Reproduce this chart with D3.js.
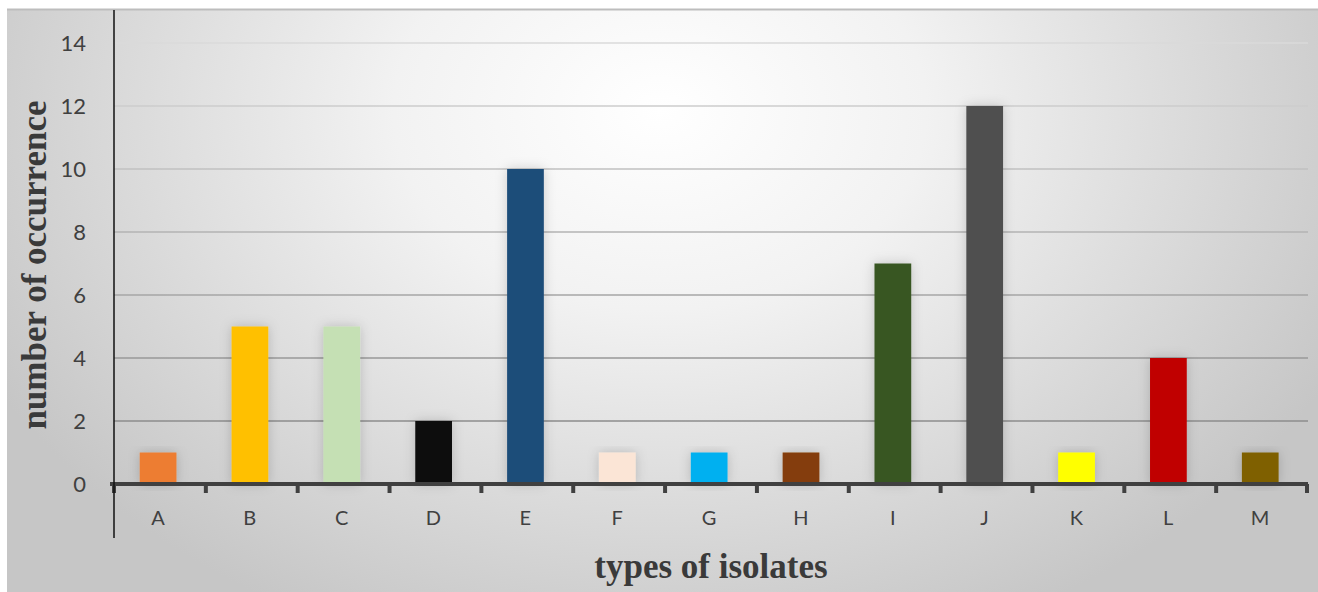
<!DOCTYPE html>
<html>
<head>
<meta charset="utf-8">
<script src="https://cdn.jsdelivr.net/npm/d3@7"></script>
<style>
  body { margin: 0; background: #fff; }
</style>
</head>
<body>
<div id="chart"></div>
<script>
const categories = ['A', 'B', 'C', 'D', 'E', 'F', 'G', 'H', 'I', 'J', 'K', 'L', 'M'];
const values = [1, 5, 5, 2, 10, 1, 1, 1, 7, 12, 1, 4, 1];
const barColors = ['#ED7D31', '#FFC000', '#C5E0B4', '#0D0D0D', '#1F4E79', '#FBE5D6', '#00B0F0',
  '#843C0C', '#375623', '#505050', '#FFFF00', '#C00000', '#7F6000'];
const yTicks = [0, 2, 4, 6, 8, 10, 12, 14];

const width = 1318;
const height = 592;
const margin = { top: 43, right: 10, bottom: 108, left: 114 };

const svg = d3.select('#chart')
  .append('svg')
  .attr('width', width)
  .attr('height', height);

const defs = svg.append('defs');
const bg = defs.append('radialGradient')
  .attr('id', 'bg')
  .attr('gradientUnits', 'userSpaceOnUse')
  .attr('cx', 660).attr('cy', 110).attr('r', 760)
  .attr('gradientTransform', 'translate(660,110) scale(1,0.75) translate(-660,-110)');
bg.append('stop').attr('offset', '0%').attr('stop-color', '#ffffff');
bg.append('stop').attr('offset', '35%').attr('stop-color', '#f2f2f2');
bg.append('stop').attr('offset', '100%').attr('stop-color', '#c6c6c6');

const shadow = defs.append('filter').attr('id', 'glow')
  .attr('x', '-60%').attr('y', '-20%').attr('width', '220%').attr('height', '140%');
shadow.append('feDropShadow')
  .attr('dx', 0).attr('dy', 0).attr('stdDeviation', 6)
  .attr('flood-color', '#000').attr('flood-opacity', 0.18);

// chart area background
svg.append('rect')
  .attr('x', 7).attr('y', 9)
  .attr('width', width - 7).attr('height', height - 9)
  .attr('fill', 'url(#bg)');
svg.append('line')
  .attr('x1', 7).attr('x2', width)
  .attr('y1', 9.5).attr('y2', 9.5)
  .attr('stroke', '#bdbdbd').attr('stroke-width', 2);

const xBand = d3.scaleBand()
  .domain(categories)
  .range([margin.left, width - margin.right]);

const y = d3.scaleLinear()
  .domain([0, 14])
  .range([height - margin.bottom, margin.top]);

const gridColor = d3.scaleLinear().domain([0, 14]).range(['#7f7f7f', '#dadada']);

// gridlines
svg.append('g')
  .selectAll('line')
  .data(yTicks.filter(d => d > 0))
  .enter()
  .append('line')
  .attr('x1', margin.left)
  .attr('x2', width - margin.right)
  .attr('y1', d => y(d))
  .attr('y2', d => y(d))
  .attr('stroke', d => gridColor(d))
  .attr('stroke-width', 1.5);

// bars
svg.append('g')
  .selectAll('rect')
  .data(values)
  .enter()
  .append('rect')
  .attr('x', (d, i) => xBand(categories[i]) + xBand.bandwidth() * 0.28)
  .attr('width', xBand.bandwidth() * 0.4)
  .attr('y', d => y(d))
  .attr('height', d => y(0) - y(d))
  .attr('fill', (d, i) => barColors[i])
  .attr('filter', 'url(#glow)');

// x axis
const xAxis = svg.append('g')
  .attr('transform', `translate(-2, ${y(0)})`)
  .call(d3.axisBottom(xBand).tickSize(0).tickPadding(27));
xAxis.select('.domain').remove();
xAxis.selectAll('text')
  .style('font-family', 'Lato, "Open Sans", sans-serif')
  .style('font-size', '20px')
  .attr('fill', '#404040');

svg.append('line')
  .attr('x1', margin.left - 4).attr('x2', width - margin.right)
  .attr('y1', y(0)).attr('y2', y(0))
  .attr('stroke', '#404040').attr('stroke-width', 4);

svg.append('g')
  .selectAll('line')
  .data(categories.concat(['end']))
  .enter()
  .append('line')
  .attr('x1', (d, i) => i < categories.length ? xBand(d) : width - margin.right - 1)
  .attr('x2', (d, i) => i < categories.length ? xBand(d) : width - margin.right - 1)
  .attr('y1', y(0))
  .attr('y2', y(0) + 9)
  .attr('stroke', '#404040').attr('stroke-width', 4);

// y axis
const yAxis = svg.append('g')
  .attr('transform', `translate(${margin.left}, 0)`)
  .call(d3.axisLeft(y).tickValues(yTicks).tickSize(0).tickPadding(28));
yAxis.select('.domain').remove();
yAxis.selectAll('text')
  .style('font-family', 'Lato, "Open Sans", sans-serif')
  .style('font-size', '22px')
  .attr('fill', '#404040');

svg.append('line')
  .attr('x1', margin.left).attr('x2', margin.left)
  .attr('y1', 10).attr('y2', 538)
  .attr('stroke', '#111').attr('stroke-width', 1.5);

// axis titles
svg.append('text')
  .attr('x', 711)
  .attr('y', 578)
  .style('text-anchor', 'middle')
  .style('font-family', '"Liberation Serif", "DejaVu Serif", serif')
  .style('font-weight', 'bold')
  .style('font-size', '35px')
  .attr('fill', '#3a3a3a')
  .text('types of isolates');

svg.append('text')
  .attr('transform', 'rotate(-90)')
  .attr('x', -265)
  .attr('y', 46)
  .style('text-anchor', 'middle')
  .style('font-family', '"Liberation Serif", "DejaVu Serif", serif')
  .style('font-weight', 'bold')
  .style('font-size', '35px')
  .attr('fill', '#3a3a3a')
  .text('number of occurrence');
</script>
</body>
</html>
